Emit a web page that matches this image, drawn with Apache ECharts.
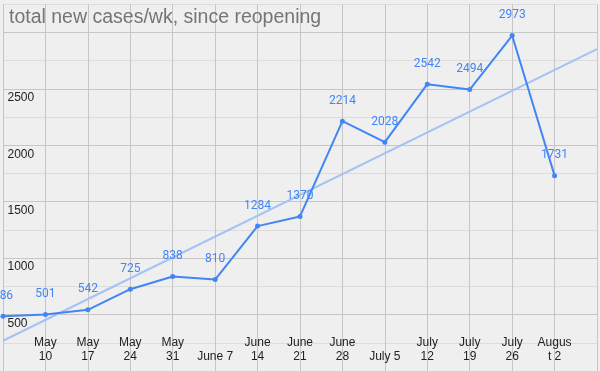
<!DOCTYPE html>
<html>
<head>
<meta charset="utf-8">
<script src="https://cdn.jsdelivr.net/npm/echarts@6/dist/echarts.min.js"></script>
<style>
html,body{margin:0;padding:0;background:#efefef;}
#chart{width:600px;height:371px;}
</style>
</head>
<body>
<div id="chart"></div>
<script>
// Weekly categories (first and last have no visible tick label)
var categories = ['May 3','May 10','May 17','May 24','May 31','June 7','June 14','June 21','June 28','July 5','July 12','July 19','July 26','August 2','August 9'];
var tickLabels = ['','May\n10','May\n17','May\n24','May\n31','June 7','June\n14','June\n21','June\n28','July 5','July\n12','July\n19','July\n26','Augus\nt 2',''];
var newCases = [486,501,542,725,838,810,1284,1370,2214,2028,2542,2494,2973,1731,null];
// Trendline end points
var trendCategories = ['May 3','August 9'];
var trendValues = [268,2853];
var yTickLabels = [500,1000,1500,2000,2500];

var chart = echarts.init(document.getElementById('chart'), null, {renderer:'canvas'});
var option = {
  backgroundColor:'#efefef',
  animation:false,
  title:{
    text:'total new cases/wk, since reopening',
    left:4, top:3,
    textStyle:{color:'#757575', fontSize:19.5, fontWeight:'normal', fontFamily:'Liberation Sans, Arial'}
  },
  grid:{left:1.5, right:0.7, top:4.25, bottom:-0.5, containLabel:false},
  xAxis:{
    type:'category',
    boundaryGap:false,
    data:categories,
    axisLine:{show:false},
    axisTick:{show:false},
    splitLine:{show:true, lineStyle:{color:'#c6c6c6', width:1}},
    axisLabel:{
      inside:true, interval:0, margin:7,
      color:'#222', fontSize:12, lineHeight:14, fontFamily:'Liberation Sans, Arial',
      formatter:function(v, i){ return tickLabels[i]; }
    }
  },
  yAxis:{
    type:'value',
    min:0, max:3250, interval:250,
    axisLine:{show:false},
    axisTick:{show:false},
    splitLine:{show:true, lineStyle:{color:['#c6c6c6','#dcdcdc'], width:1}},
    axisLabel:{
      inside:true, margin:4.5, verticalAlign:'top', padding:[3,0,0,0],
      color:'#222', fontSize:12, fontFamily:'Liberation Sans, Arial',
      formatter:function(v){ return yTickLabels.indexOf(v) >= 0 ? String(v) : ''; }
    }
  },
  series:[
    {
      type:'line',
      data:trendCategories.map(function(c,i){ return [c, trendValues[i]]; }),
      symbol:'none',
      lineStyle:{color:'#a4c2f4', width:2},
      silent:true,
      z:1
    },
    {
      type:'line',
      data:newCases,
      symbol:'circle',
      symbolSize:5,
      itemStyle:{color:'#4285f4'},
      lineStyle:{color:'#4285f4', width:2},
      label:{show:true, position:'top', distance:12, color:'#4285f4', fontSize:12, fontFamily:'Roboto'},
      z:2
    }
  ]
};
chart.setOption(option);
</script>
</body>
</html>
